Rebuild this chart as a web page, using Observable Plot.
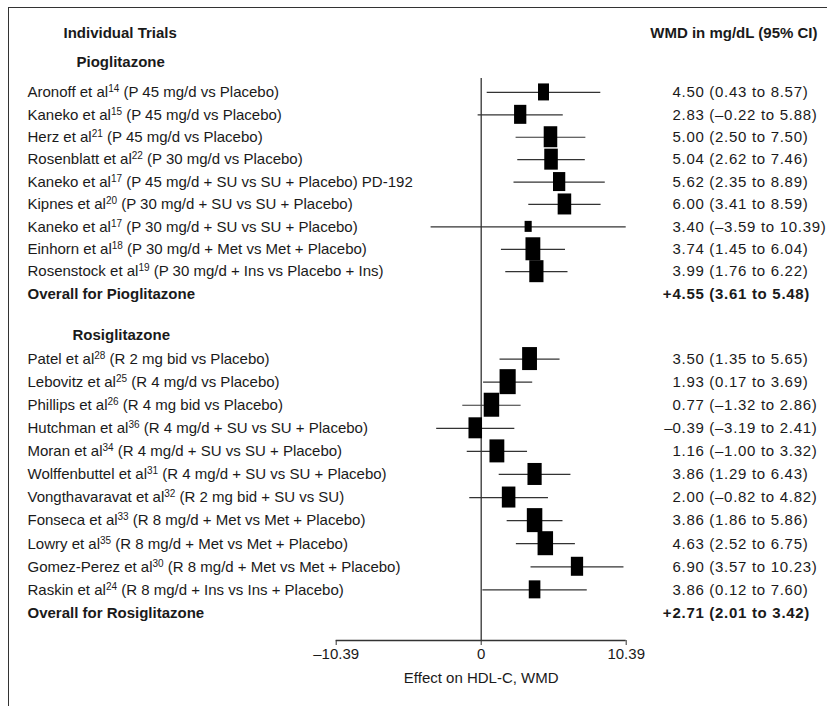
<!DOCTYPE html>
<html><head><meta charset="utf-8">
<script src="https://cdn.jsdelivr.net/npm/d3@7"></script>
<script src="https://cdn.jsdelivr.net/npm/@observablehq/plot@0.6"></script>
<style>
body{margin:0;background:#fff;}
#wrap{position:relative;width:827px;height:706px;overflow:hidden;}
#border{position:absolute;left:8px;top:7px;width:830px;height:710px;border-top:1.5px solid #333;border-left:1.5px solid #333;pointer-events:none;}
</style></head><body><div id="wrap"><div id="border"></div></div>
<script>
// ---------- data ----------
const pioNames = ["Aronoff et al","Kaneko et al","Herz et al","Rosenblatt et al","Kaneko et al","Kipnes et al","Kaneko et al","Einhorn et al","Rosenstock et al"];
const pioRefs = [14,15,21,22,17,20,17,18,19];
const pioRegimens = ["(P 45 mg/d vs Placebo)","(P 45 mg/d vs Placebo)","(P 45 mg/d vs Placebo)","(P 30 mg/d vs Placebo)","(P 45 mg/d + SU vs SU + Placebo) PD-192","(P 30 mg/d + SU vs SU + Placebo)","(P 30 mg/d + SU vs SU + Placebo)","(P 30 mg/d + Met vs Met + Placebo)","(P 30 mg/d + Ins vs Placebo + Ins)"];
const pioWMD = [4.50,2.83,5.00,5.04,5.62,6.00,3.40,3.74,3.99];
const pioLow = [0.43,-0.22,2.50,2.62,2.35,3.41,-3.59,1.45,1.76];
const pioHigh = [8.57,5.88,7.50,7.46,8.89,8.59,10.39,6.04,6.22];
const pioWeight = [17,19,21,21,19,21,11,23,22];
const pioOverall = [4.55,3.61,5.48];

const rosiNames = ["Patel et al","Lebovitz et al","Phillips et al","Hutchman et al","Moran et al","Wolffenbuttel et al","Vongthavaravat et al","Fonseca et al","Lowry et al","Gomez-Perez et al","Raskin et al"];
const rosiRefs = [28,25,26,36,34,31,32,33,35,30,24];
const rosiRegimens = ["(R 2 mg bid vs Placebo)","(R 4 mg/d vs Placebo)","(R 4 mg bid vs Placebo)","(R 4 mg/d + SU vs SU + Placebo)","(R 4 mg/d + SU vs SU + Placebo)","(R 4 mg/d + SU vs SU + Placebo)","(R 2 mg bid + SU vs SU)","(R 8 mg/d + Met vs Met + Placebo)","(R 8 mg/d + Met vs Met + Placebo)","(R 8 mg/d + Met vs Met + Placebo)","(R 8 mg/d + Ins vs Ins + Placebo)"];
const rosiWMD = [3.50,1.93,0.77,-0.39,1.16,3.86,2.00,3.86,4.63,6.90,3.86];
const rosiLow = [1.35,0.17,-1.32,-3.19,-1.00,1.29,-0.82,1.86,2.52,3.57,0.12];
const rosiHigh = [5.65,3.69,2.86,2.41,3.32,6.43,4.82,5.86,6.75,10.23,7.60];
const rosiWeight = [23,25,24,21,23,22,21,24,24,19,18];
const rosiOverall = [2.71,2.01,3.42];

const xDomain = [-10.39, 10.39];
const xTicks = [-10.39, 0, 10.39];
const xTickLabels = ["\u201310.39", "0", "10.39"];
const headerLeft = "Individual Trials";
const headerRight = "WMD in mg/dL (95% CI)";
const groupTitles = ["Pioglitazone", "Rosiglitazone"];
const overallTitles = ["Overall for Pioglitazone", "Overall for Rosiglitazone"];
const xLabel = "Effect on HDL-C, WMD";

// ---------- layout ----------
const W = 827, H = 706;
const ML = 335.7, MR = W - 625.7, MT = 33, MB = 66;
const rowIT = -2.63, rowPio = -1.34, rowRosiHdr = 10.85, axisRow = 24.46;
const rosiStart = 11.9, rosiStep = 1.03;
const pxX = (W - ML - MR) / (xDomain[1] - xDomain[0]);
const pxY = (H - MT - MB) / (axisRow - rowIT);
const labelX = 27, valueX = 672, rightX = 817;
const aspect = 1.55;

const fmt = v => (v < 0 ? "\u2013" : "") + Math.abs(v).toFixed(2);
const trials = [];
pioNames.forEach((n, i) => trials.push({row: i, name: n, ref: pioRefs[i], reg: pioRegimens[i], w: pioWMD[i], lo: pioLow[i], hi: pioHigh[i], wt: pioWeight[i]}));
rosiNames.forEach((n, i) => trials.push({row: rosiStart + i * rosiStep, name: n, ref: rosiRefs[i], reg: rosiRegimens[i], w: rosiWMD[i], lo: rosiLow[i], hi: rosiHigh[i], wt: rosiWeight[i]}));
trials.forEach(d => {
  const s = fmt(d.w) + " (" + fmt(d.lo) + " to " + fmt(d.hi) + ")";
  d.sign = s.startsWith("\u2013") ? "\u2013" : "";
  d.rest = d.sign ? s.slice(1) : s;
  d.label = d.name + d.ref + " " + d.reg;
});
const overall = [
  {row: 9, title: overallTitles[0], v: pioOverall},
  {row: rosiStart + rosiNames.length * rosiStep, title: overallTitles[1], v: rosiOverall}
].map(d => ({...d, sign: "+", rest: fmt(d.v[0]) + " (" + fmt(d.v[1]) + " to " + fmt(d.v[2]) + ")"}));

const FONT = "'Liberation Sans',Arial,sans-serif";
const TXT = "#1a1a1a";
const FS = 15;

const chart = Plot.plot({
  width: W, height: H,
  marginLeft: ML, marginRight: MR, marginTop: MT, marginBottom: MB,
  style: {fontFamily: FONT, fontSize: FS + "px", color: TXT, background: "transparent", overflow: "visible"},
  x: {domain: xDomain},
  y: {domain: [rowIT, axisRow], reverse: true, axis: null},
  marks: [
    Plot.axisX({ticks: xTicks, tickFormat: (d, i) => xTickLabels[i], tickSize: 5, tickPadding: 3, fontSize: FS,
      label: xLabel, labelAnchor: "center", labelArrow: "none", labelOffset: 42, stroke: "#333"}),
    Plot.ruleY([axisRow], {x1: xDomain[0], x2: xDomain[1], stroke: "#333", strokeWidth: 1.3}),
    Plot.ruleX([0], {y1: -0.62, y2: axisRow, stroke: "#333", strokeWidth: 1.3}),
    Plot.ruleY(trials, {y: "row", x1: "lo", x2: "hi", stroke: "#333", strokeWidth: 1.2}),
    Plot.rect(trials, {
      x1: d => d.w - d.wt / aspect / 2 / pxX, x2: d => d.w + d.wt / aspect / 2 / pxX,
      y1: d => d.row - d.wt / 2 / pxY, y2: d => d.row + d.wt / 2 / pxY, fill: "#000"}),
    Plot.text(trials, {y: "row", text: "label", frameAnchor: "left", dx: labelX - ML, textAnchor: "start", fill: TXT}),
    Plot.text(trials, {y: "row", text: "rest", frameAnchor: "left", dx: valueX - ML, textAnchor: "start", fill: TXT, ariaLabel: "values"}),
    Plot.text(trials.filter(d => d.sign), {y: "row", text: "sign", frameAnchor: "left", dx: valueX - ML, textAnchor: "end", fill: TXT}),
    Plot.text(overall, {y: "row", text: "title", frameAnchor: "left", dx: labelX - ML, textAnchor: "start", fontWeight: "bold", fill: TXT}),
    Plot.text(overall, {y: "row", text: "rest", frameAnchor: "left", dx: valueX - ML, textAnchor: "start", fontWeight: "bold", fill: TXT}),
    Plot.text(overall, {y: "row", text: "sign", frameAnchor: "left", dx: valueX - ML - 1, textAnchor: "end", fontWeight: "bold", fill: TXT}),
    Plot.text([headerLeft], {y: rowIT, text: d => d, frameAnchor: "left", dx: 63 - ML, textAnchor: "start", fontWeight: "bold", fill: TXT}),
    Plot.text([headerRight], {y: rowIT, text: d => d, frameAnchor: "left", dx: rightX - ML, textAnchor: "end", fontWeight: "bold", fill: TXT}),
    Plot.text([groupTitles[0]], {y: rowPio, text: d => d, frameAnchor: "left", dx: 76 - ML, textAnchor: "start", fontWeight: "bold", fill: TXT}),
    Plot.text([groupTitles[1]], {y: rowRosiHdr, text: d => d, frameAnchor: "left", dx: 72 - ML, textAnchor: "start", fontWeight: "bold", fill: TXT})
  ]
});
document.getElementById("wrap").prepend(chart);

// superscript reference numbers + spacing of the value column
const allTexts = [...chart.querySelectorAll("text")];
trials.forEach(d => {
  const el = allTexts.find(t => t.textContent === d.label && !t.dataset.done);
  if (!el) return;
  el.dataset.done = "1";
  const t = d3.select(el);
  t.text(null);
  t.append("tspan").text(d.name);
  t.append("tspan").attr("dy", -5).attr("font-size", "10px").text(d.ref);
  t.append("tspan").attr("dy", 5).text(" " + d.reg);
});
const valueStrings = new Set(trials.map(d => d.rest).concat(overall.map(d => d.rest)));
allTexts.forEach(t => { if (valueStrings.has(t.textContent)) t.setAttribute("letter-spacing", "0.7"); });
</script></body></html>
